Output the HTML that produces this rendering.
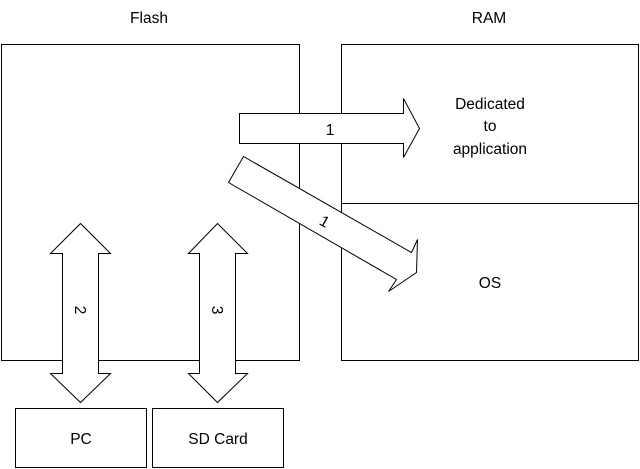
<!DOCTYPE html>
<html><head><style>body{margin:0;background:#fff}svg{display:block}text{font-family:"Liberation Sans",sans-serif;font-size:15.5px;fill:#000}</style></head>
<body>
<svg width="640" height="469" viewBox="0 0 640 469" xmlns="http://www.w3.org/2000/svg">
<g fill="#fff" stroke="#000" stroke-width="1">
<rect x="1.5" y="44.5" width="298" height="316"/>
<rect x="341.5" y="44.5" width="297" height="316"/>
<line x1="341.5" y1="203.5" x2="638.5" y2="203.5"/>
<polygon points="239.5,113.5 403.5,113.5 403.5,98.5 419.5,128.5 403.5,157.5 403.5,143.5 239.5,143.5"/>
<polygon points="243.5,156.5 411.5,252.5 417.5,239.5 416.5,272.5 388.5,291.5 396.5,279.5 228.5,182.5"/>
<polygon points="80.5,223.5 110.5,253.5 98.5,253.5 98.5,373.5 110.5,373.5 80.5,402.5 50.5,373.5 62.5,373.5 62.5,253.5 50.5,253.5"/>
<polygon points="217.5,223.5 247.5,253.5 235.5,253.5 235.5,373.5 247.5,373.5 217.5,402.5 188.5,373.5 199.5,373.5 199.5,253.5 188.5,253.5"/>
<rect x="15.5" y="408.5" width="131" height="59"/>
<rect x="152.5" y="408.5" width="131" height="59"/>
</g>
<g text-anchor="middle">
<text x="149" y="23">Flash</text>
<text x="489" y="23">RAM</text>
<text x="490" y="109">Dedicated</text>
<text x="490" y="131">to</text>
<text x="490" y="154">application</text>
<text x="490" y="288">OS</text>
<text x="330" y="135">1</text>
<text transform="translate(322,226) rotate(30)">1</text>
<text transform="translate(75,310) rotate(90)">2</text>
<text transform="translate(212,310) rotate(90)">3</text>
<text x="81" y="444">PC</text>
<text x="218" y="444">SD Card</text>
</g>
</svg>
</body></html>
